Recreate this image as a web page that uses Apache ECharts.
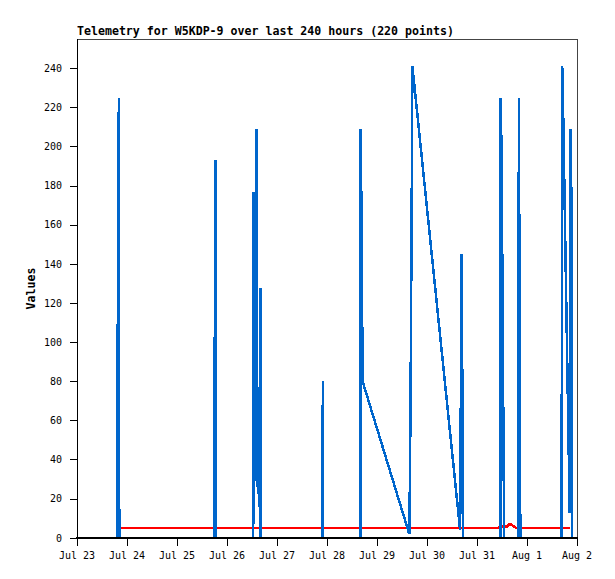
<!DOCTYPE html>
<html>
<head>
<meta charset="utf-8">
<script src="https://cdn.jsdelivr.net/npm/echarts@6/dist/echarts.min.js"></script>
<style>
  html, body { margin: 0; padding: 0; background: #fff; }
  #chart { width: 615px; height: 579px; }
  /* hard pixel edges, like the original bitmap plot */
  #chart path { shape-rendering: crispEdges; }
</style>
</head>
<body>
<div id="chart"></div>
<script>
/* ===== data (hours since Jul 23 00:00) ===== */
const dayLabels = ['Jul 23', 'Jul 24', 'Jul 25', 'Jul 26', 'Jul 27', 'Jul 28', 'Jul 29', 'Jul 30', 'Jul 31', 'Aug 1', 'Aug 2'];
const xTicks = [0, 24, 48, 72, 96, 120, 144, 168, 192, 216, 240];
const yTicks = [0, 20, 40, 60, 80, 100, 120, 140, 160, 180, 200, 220, 240];

const blueHours = [
    19.5, 19.6, 20.1, 20.3,
    65.9, 66.1, 66.6, 66.8,
    84.6, 84.8, 85.1, 85.4, 86.1, 86.5, 87.0, 87.4, 88.0, 88.2,
    117.8, 118.0, 118.1,
    136.0, 136.2, 136.7, 137.1,
    159.5, 159.9, 160.4, 161.0,
    183.9, 184.6, 185.0, 185.2,
    203.2, 203.4, 203.9, 204.3, 204.8, 205.0,
    211.8, 212.1, 212.6, 212.8,
    232.6, 232.9, 233.2, 236.5, 237.0, 237.4, 237.6
];
const blueValues = [
    0, 161, 225, 0,
    0, 97, 193, 0,
    0, 177, 147, 29, 209, 26, 32, 16, 128, 0,
    0, 80, 0,
    0, 209, 145, 80,
    2, 40, 121, 241,
    4, 145, 73, 0,
    0, 225, 187, 113, 38, 0,
    0, 225, 65, 0,
    0, 241, 228, 13, 209, 161, 0
];

const redHours = [20.8, 202.6, 202.9, 206.9, 207.3, 208.3, 209.6, 211.0, 236.6];
const redValues = [5, 5, 6, 6, 7, 7, 6, 5, 5];

const zip = (xs, ys) => xs.map((x, i) => [x, ys[i]]);

/* ===== chart ===== */
const mono = "'DejaVu Sans Mono', monospace";
const chart = echarts.init(document.getElementById('chart'), null, { renderer: 'svg' });
chart.setOption({
    backgroundColor: '#fff',
    animation: false,
    title: {
        text: 'Telemetry for W5KDP-9 over last 240 hours (220 points)',
        left: 77, top: 25, padding: 0,
        textStyle: { fontFamily: mono, fontSize: 11.6, fontWeight: 'bold', color: '#000' }
    },
    grid: {
        left: 77, right: 38, top: 39, bottom: 41,
        show: true, borderColor: '#444', borderWidth: 1, backgroundColor: 'transparent'
    },
    xAxis: {
        type: 'value', min: 0, max: 240, z: 5,
        axisLine: { lineStyle: { color: '#000', width: 2 } },
        axisTick: { show: true, length: 8, lineStyle: { color: '#000', width: 1 }, customValues: xTicks },
        axisLabel: {
            customValues: xTicks, margin: 12, color: '#000', fontFamily: mono, fontSize: 10,
            formatter: v => dayLabels[xTicks.indexOf(v)]
        },
        splitLine: { show: false }
    },
    yAxis: {
        type: 'value', min: 0, max: 255, z: 5,
        name: 'Values', nameLocation: 'middle', nameGap: 40, nameMoveOverlap: false,
        nameTextStyle: { fontFamily: mono, fontSize: 11.6, fontWeight: 'bold', color: '#000' },
        axisLine: { show: true, lineStyle: { color: '#000', width: 1 } },
        axisTick: { show: true, length: 7, lineStyle: { color: '#000', width: 1 }, customValues: yTicks },
        axisLabel: { customValues: yTicks, margin: 15, color: '#000', fontFamily: mono, fontSize: 10 },
        splitLine: { show: false }
    },
    series: [
        {
            type: 'line', data: zip(redHours, redValues), showSymbol: false,
            lineStyle: { color: '#ff0000', width: 2.5 }
        },
        {
            type: 'line', data: zip(blueHours, blueValues), showSymbol: false,
            lineStyle: { color: '#0066cc', width: 2.5 }
        }
    ]
});
</script>
</body>
</html>
